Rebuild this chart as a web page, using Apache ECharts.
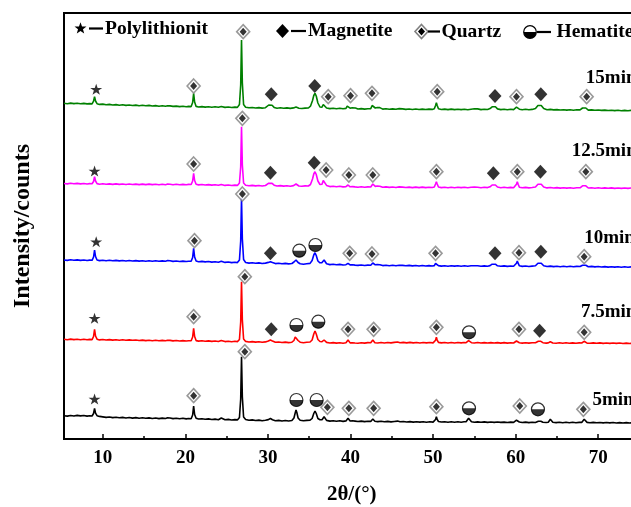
<!DOCTYPE html>
<html><head><meta charset="utf-8">
<script src="https://cdn.jsdelivr.net/npm/echarts@6/dist/echarts.min.js"></script>
<style>html,body{margin:0;padding:0;background:#fff}#c{width:631px;height:507px}</style>
</head><body><div id="c"></div>
<script>
// ---- data ----
const traceNames = ['5min','7.5min','10min','12.5min','15min'];
const traceColors = ['#000000','#ff0000','#0000ff','#ff00ff','#008000'];
const traceOffsets = [16, 95, 172, 250, 328];
const traceLabelPos = [[69.3,39],[67.9,127.3],[68.3,200.7],[66.8,288.3],[68.5,360.7]];
const xMajorTicks = [10,20,30,40,50,60,70];
const xMinorTicks = [15,25,35,45,55,65,75];

const int5 = [[5.3,7.3],[5.7,6.9],[6.1,7.5],[6.5,7.0],[6.9,7.6],[7.3,7.1],[7.7,7.5],[8.1,6.9],[8.4,7.3],[8.7,7.0],[8.88,9.5],[9.0,14.7],[9.12,9.8],[9.3,7.3],[9.6,6.6],[10.0,6.1],[10.4,5.6],[10.8,6.0],[11.2,5.4],[11.6,5.8],[12.0,5.2],[12.4,5.6],[12.8,5.0],[13.2,5.5],[13.6,4.9],[14.0,5.4],[14.4,4.8],[14.8,5.2],[15.2,4.7],[15.6,5.1],[16.0,4.5],[16.4,5.0],[16.8,4.4],[17.2,4.9],[17.6,4.5],[17.85,5.2],[18.0,6.2],[18.15,5.0],[18.5,4.4],[18.9,4.8],[19.3,4.2],[19.7,4.7],[20.1,4.1],[20.4,4.5],[20.7,4.3],[20.88,8.0],[21.0,17.0],[21.12,8.5],[21.3,4.8],[21.6,4.0],[22.0,4.3],[22.4,3.7],[22.8,4.1],[23.2,3.5],[23.6,3.9],[24.0,3.3],[24.2,3.7],[24.35,5.0],[24.5,3.8],[24.8,3.2],[25.2,3.6],[25.6,3.0],[26.0,3.4],[26.3,3.1],[26.55,5.5],[26.7,24.0],[26.8,66.3],[26.9,26.0],[27.05,6.0],[27.3,3.6],[27.7,2.7],[28.1,3.1],[28.5,2.5],[28.9,2.9],[29.3,2.3],[29.7,2.7],[30.05,3.4],[30.3,4.5],[30.55,3.3],[30.9,2.3],[31.3,2.6],[31.7,2.0],[32.1,2.5],[32.5,2.0],[32.9,2.5],[33.15,5.0],[33.3,10.0],[33.4,13.0],[33.5,10.5],[33.65,5.0],[33.9,2.8],[34.3,2.2],[34.7,2.6],[35.1,2.8],[35.35,4.5],[35.55,9.5],[35.7,12.0],[35.85,9.5],[36.05,4.5],[36.3,3.3],[36.55,3.2],[36.7,5.0],[36.8,6.3],[36.9,5.0],[37.1,2.6],[37.5,1.9],[37.9,2.3],[38.3,1.7],[38.7,2.2],[39.1,1.6],[39.45,2.1],[39.6,3.6],[39.7,4.7],[39.8,3.6],[39.95,2.0],[40.25,2.2],[40.4,3.2],[40.55,1.9],[40.9,1.5],[41.3,1.9],[41.7,1.4],[42.1,1.8],[42.45,1.6],[42.62,3.0],[42.7,4.0],[42.8,3.0],[42.95,1.8],[43.3,1.4],[43.7,1.8],[44.1,1.2],[44.5,1.6],[44.9,1.1],[45.3,1.5],[45.7,1.9],[46.0,1.2],[46.4,1.5],[46.8,1.0],[47.2,1.4],[47.6,0.9],[48.0,1.3],[48.4,0.9],[48.8,1.3],[49.2,0.8],[49.6,1.2],[50.0,0.9],[50.15,1.4],[50.3,3.5],[50.4,6.3],[50.5,3.6],[50.65,1.5],[51.0,1.0],[51.4,1.3],[51.8,0.8],[52.2,1.2],[52.6,0.8],[53.0,1.2],[53.4,0.8],[53.75,1.2],[54.0,1.2],[54.18,3.0],[54.3,4.7],[54.42,3.0],[54.65,1.2],[55.0,0.8],[55.4,1.1],[55.8,0.7],[56.2,1.1],[56.6,0.6],[57.0,1.0],[57.4,0.6],[57.8,1.0],[58.2,0.6],[58.6,0.9],[59.0,0.5],[59.4,0.9],[59.75,0.6],[59.95,0.9],[60.1,2.8],[60.2,4.7],[60.3,2.8],[60.45,1.0],[60.8,0.5],[61.2,0.9],[61.6,0.4],[62.0,0.8],[62.4,0.5],[62.75,1.8],[62.9,2.3],[63.05,1.8],[63.3,0.8],[63.7,0.5],[63.95,0.8],[64.1,2.6],[64.2,3.7],[64.3,2.6],[64.5,0.8],[64.9,0.4],[65.3,0.8],[65.7,0.3],[66.1,0.7],[66.5,0.3],[66.9,0.7],[67.3,0.3],[67.7,0.6],[68.0,0.6],[68.18,2.5],[68.3,3.7],[68.42,2.5],[68.65,0.6],[69.0,0.2],[69.4,0.6],[69.8,0.2],[70.2,0.5],[70.6,0.1],[71.0,0.5],[71.4,0.1],[71.8,0.5],[72.2,0.0],[72.6,0.4],[73.0,0.0],[73.4,0.4],[73.8,0.0],[74.2,0.4],[74.6,0.0],[75.0,0.3]];

const int7_5 = [[5.3,4.7],[5.7,4.3],[6.1,4.9],[6.5,4.4],[6.9,4.8],[7.3,4.3],[7.7,4.7],[8.1,4.2],[8.4,4.6],[8.7,4.4],[8.88,7.5],[9.0,14.7],[9.12,8.0],[9.3,4.8],[9.6,4.1],[10.0,4.5],[10.4,4.0],[10.8,4.4],[11.2,3.9],[11.6,4.3],[12.0,3.8],[12.4,4.2],[12.8,3.7],[13.2,4.1],[13.6,3.7],[14.0,4.0],[14.4,3.5],[14.8,3.9],[15.2,3.4],[15.6,3.8],[16.0,3.3],[16.4,3.7],[16.8,3.3],[17.2,3.6],[17.6,3.2],[17.85,3.8],[18.0,4.7],[18.15,3.6],[18.5,3.1],[18.9,3.5],[19.3,3.0],[19.7,3.4],[20.1,3.0],[20.4,3.3],[20.7,3.2],[20.88,7.0],[21.0,15.7],[21.12,7.5],[21.3,3.4],[21.6,2.9],[22.0,3.2],[22.4,2.7],[22.8,3.1],[23.2,2.6],[23.6,3.0],[24.0,2.5],[24.2,2.9],[24.35,3.6],[24.5,2.8],[24.8,2.4],[25.2,2.8],[25.6,2.3],[26.0,2.7],[26.3,2.4],[26.55,4.5],[26.7,22.0],[26.8,62.3],[26.9,24.0],[27.05,5.0],[27.3,2.6],[27.7,2.0],[28.1,2.4],[28.5,1.9],[28.9,2.3],[29.3,1.7],[29.7,2.1],[30.05,3.0],[30.3,4.0],[30.55,2.9],[30.9,1.7],[31.3,2.0],[31.7,1.5],[32.1,1.9],[32.5,1.4],[32.9,1.8],[33.15,3.5],[33.3,7.0],[33.4,9.0],[33.5,7.2],[33.65,3.5],[33.9,1.8],[34.3,1.3],[34.7,1.7],[35.1,2.0],[35.35,4.0],[35.55,10.0],[35.7,13.0],[35.85,10.0],[36.05,4.5],[36.3,2.5],[36.55,2.3],[36.7,3.4],[36.8,4.0],[36.9,3.3],[37.1,1.6],[37.5,1.0],[37.9,1.4],[38.3,0.9],[38.7,1.3],[39.1,0.8],[39.45,1.2],[39.6,2.8],[39.7,4.0],[39.8,2.8],[39.95,1.1],[40.25,1.2],[40.4,2.0],[40.55,1.0],[40.9,0.8],[41.3,1.3],[41.7,0.9],[42.1,1.4],[42.45,1.2],[42.62,2.8],[42.7,4.0],[42.8,2.8],[42.95,1.3],[43.3,1.0],[43.7,1.5],[44.1,1.0],[44.5,1.5],[44.9,1.1],[45.3,1.6],[45.7,2.0],[46.0,1.2],[46.4,1.6],[46.8,1.1],[47.2,1.6],[47.6,1.1],[48.0,1.5],[48.4,1.0],[48.8,1.5],[49.2,1.1],[49.6,1.5],[50.0,1.1],[50.15,1.5],[50.3,3.8],[50.4,6.7],[50.5,3.9],[50.65,1.6],[51.0,1.1],[51.4,1.5],[51.8,1.0],[52.2,1.5],[52.6,1.0],[53.0,1.5],[53.4,1.1],[53.75,1.5],[54.0,1.3],[54.18,2.5],[54.3,3.3],[54.42,2.5],[54.65,1.3],[55.0,1.0],[55.4,1.5],[55.8,1.0],[56.2,1.4],[56.6,1.0],[57.0,1.4],[57.4,1.0],[57.8,1.4],[58.2,0.9],[58.6,1.4],[59.0,0.9],[59.4,1.3],[59.75,1.0],[59.95,1.3],[60.1,3.0],[60.2,4.7],[60.3,3.0],[60.45,1.3],[60.8,0.9],[61.2,1.3],[61.6,0.9],[62.0,1.3],[62.4,1.2],[62.75,2.7],[62.9,3.3],[63.05,2.7],[63.3,1.3],[63.7,0.9],[63.95,1.1],[64.1,1.8],[64.2,2.3],[64.3,1.8],[64.5,1.0],[64.9,0.8],[65.3,1.2],[65.7,0.8],[66.1,1.2],[66.5,0.8],[66.9,1.1],[67.3,0.7],[67.7,1.1],[68.0,1.0],[68.18,2.0],[68.3,2.7],[68.42,2.0],[68.65,0.9],[69.0,0.7],[69.4,1.1],[69.8,0.7],[70.2,1.1],[70.6,0.6],[71.0,1.0],[71.4,0.6],[71.8,1.0],[72.2,0.6],[72.6,1.0],[73.0,0.5],[73.4,0.9],[73.8,0.5],[74.2,0.9],[74.6,0.5],[75.0,0.8]];

const int10 = [[5.3,7.0],[5.7,6.6],[6.1,7.2],[6.5,6.7],[6.9,7.1],[7.3,6.6],[7.7,7.0],[8.1,6.5],[8.4,6.9],[8.7,6.7],[8.88,10.0],[9.0,17.0],[9.12,10.5],[9.3,7.0],[9.6,6.4],[10.0,6.8],[10.4,6.3],[10.8,6.7],[11.2,6.2],[11.6,6.6],[12.0,6.1],[12.4,6.5],[12.8,6.0],[13.2,6.5],[13.6,6.0],[14.0,6.4],[14.4,5.9],[14.8,6.3],[15.2,5.8],[15.6,6.3],[16.0,5.8],[16.4,6.2],[16.8,5.7],[17.2,6.1],[17.6,5.7],[17.85,6.4],[18.0,7.8],[18.15,6.2],[18.5,5.6],[18.9,6.0],[19.3,5.5],[19.7,5.9],[20.1,5.5],[20.4,5.8],[20.7,5.7],[20.88,9.5],[21.0,18.7],[21.12,10.0],[21.3,6.0],[21.6,5.3],[22.0,5.6],[22.4,5.1],[22.8,5.5],[23.2,4.9],[23.6,5.3],[24.0,4.8],[24.2,5.2],[24.35,5.8],[24.5,5.0],[24.8,4.6],[25.2,5.0],[25.6,4.4],[26.0,4.8],[26.3,4.4],[26.55,7.0],[26.7,26.0],[26.8,68.7],[26.9,28.0],[27.05,7.5],[27.3,4.5],[27.7,3.9],[28.1,4.3],[28.5,3.7],[28.9,4.1],[29.3,3.5],[29.7,3.9],[30.05,4.6],[30.3,5.3],[30.55,4.4],[30.9,3.4],[31.3,3.8],[31.7,3.2],[32.1,3.6],[32.5,3.1],[32.9,3.5],[33.15,5.0],[33.3,6.5],[33.4,7.0],[33.5,6.4],[33.65,4.5],[33.9,3.2],[34.3,2.8],[34.7,3.2],[35.1,3.6],[35.35,6.5],[35.55,12.0],[35.7,14.3],[35.85,11.5],[36.05,6.0],[36.3,4.2],[36.55,4.4],[36.7,6.2],[36.8,7.0],[36.9,6.0],[37.1,3.2],[37.5,2.4],[37.9,2.8],[38.3,2.2],[38.7,2.6],[39.1,2.0],[39.45,2.3],[39.6,3.1],[39.7,3.7],[39.8,3.1],[39.95,2.1],[40.25,2.2],[40.4,2.6],[40.55,1.9],[40.9,1.6],[41.3,2.0],[41.7,1.5],[42.1,1.9],[42.45,1.8],[42.62,3.2],[42.7,4.0],[42.8,3.3],[43.0,2.2],[43.25,2.4],[43.4,3.0],[43.55,2.3],[43.9,1.4],[44.3,1.8],[44.7,1.3],[45.1,1.7],[45.5,1.2],[45.9,1.8],[46.1,2.3],[46.3,1.6],[46.7,1.2],[47.1,1.6],[47.5,1.1],[47.9,1.5],[48.3,1.0],[48.7,1.5],[49.1,1.0],[49.5,1.4],[49.9,1.0],[50.15,1.4],[50.3,3.5],[50.4,5.3],[50.5,3.5],[50.65,1.4],[51.0,0.9],[51.4,1.3],[51.8,0.8],[52.2,1.3],[52.6,0.9],[53.0,1.3],[53.4,0.8],[53.8,1.2],[54.2,0.8],[54.6,1.2],[55.0,1.3],[55.2,2.0],[55.4,1.3],[55.8,0.7],[56.2,1.1],[56.6,0.8],[56.9,1.4],[57.15,2.8],[57.35,3.7],[57.55,2.8],[57.8,1.2],[58.2,0.7],[58.6,1.1],[59.0,0.6],[59.4,1.0],[59.75,0.7],[59.95,1.2],[60.1,3.8],[60.2,6.0],[60.3,3.8],[60.45,1.2],[60.8,0.6],[61.2,1.0],[61.6,0.5],[62.0,0.9],[62.4,1.2],[62.7,3.8],[62.9,5.3],[63.1,3.8],[63.4,1.2],[63.8,0.5],[64.2,0.9],[64.6,0.4],[65.0,0.8],[65.4,0.3],[65.8,0.7],[66.2,0.3],[66.6,0.7],[67.0,0.2],[67.4,0.6],[67.8,0.5],[68.1,1.8],[68.3,3.0],[68.5,1.8],[68.8,0.3],[69.2,0.6],[69.6,0.1],[70.0,0.5],[70.4,0.0],[70.8,0.4],[71.2,-0.1],[71.6,0.3],[72.0,-0.1],[72.4,0.3],[72.8,-0.2],[73.2,0.2],[73.6,-0.2],[74.0,0.2],[74.4,-0.2],[74.8,0.1],[75.0,0.0]];

const int12_5 = [[5.3,5.5],[5.7,5.1],[6.1,5.7],[6.5,5.2],[6.9,5.6],[7.3,5.1],[7.7,5.5],[8.1,5.0],[8.4,5.4],[8.7,5.2],[8.88,7.5],[9.0,12.3],[9.12,8.0],[9.3,5.4],[9.6,4.8],[10.0,5.2],[10.4,4.7],[10.8,5.1],[11.2,4.6],[11.6,5.1],[12.0,4.6],[12.4,5.0],[12.8,4.5],[13.2,5.0],[13.6,4.5],[14.0,4.9],[14.4,4.4],[14.8,4.9],[15.2,4.4],[15.6,4.9],[16.0,4.4],[16.4,4.8],[16.8,4.3],[17.2,4.8],[17.6,4.3],[17.85,4.9],[18.0,5.6],[18.15,4.7],[18.5,4.2],[18.9,4.7],[19.3,4.2],[19.7,4.6],[20.1,4.2],[20.4,4.6],[20.7,4.5],[20.88,8.0],[21.0,15.7],[21.12,8.5],[21.3,4.7],[21.6,4.1],[22.0,4.5],[22.4,4.0],[22.8,4.4],[23.2,3.9],[23.6,4.3],[24.0,3.7],[24.2,4.1],[24.35,4.6],[24.5,4.0],[24.8,3.6],[25.2,4.0],[25.6,3.5],[26.0,3.9],[26.3,3.6],[26.55,6.0],[26.7,22.0],[26.8,62.3],[26.9,24.0],[27.05,6.0],[27.3,3.8],[27.7,3.2],[28.1,3.6],[28.5,3.1],[28.9,3.5],[29.3,3.0],[29.7,3.5],[29.9,4.0],[30.1,5.8],[30.3,6.7],[30.5,5.6],[30.75,3.8],[31.1,3.0],[31.5,3.4],[31.9,2.9],[32.3,3.3],[32.7,2.8],[33.1,3.4],[33.3,4.5],[33.4,5.0],[33.5,4.4],[33.75,3.0],[34.1,2.7],[34.5,3.1],[34.9,3.0],[35.15,4.5],[35.4,10.0],[35.55,15.0],[35.7,17.3],[35.85,14.5],[36.05,8.0],[36.3,4.5],[36.55,4.8],[36.7,8.5],[36.8,9.7],[36.9,8.0],[37.1,3.6],[37.5,2.4],[37.9,2.8],[38.3,2.2],[38.7,2.7],[39.1,2.1],[39.45,2.4],[39.6,3.4],[39.7,4.0],[39.8,3.4],[39.95,2.2],[40.25,2.4],[40.4,3.0],[40.55,2.1],[40.9,1.8],[41.3,2.2],[41.7,1.7],[42.1,2.1],[42.45,2.0],[42.62,4.0],[42.7,5.0],[42.8,4.0],[43.0,2.6],[43.25,3.0],[43.4,4.0],[43.55,2.8],[43.9,1.7],[44.3,2.1],[44.7,1.6],[45.1,2.0],[45.5,1.5],[45.9,2.1],[46.1,2.6],[46.3,1.9],[46.7,1.5],[47.1,1.9],[47.5,1.4],[47.9,1.9],[48.3,1.4],[48.7,1.9],[49.1,1.4],[49.5,1.8],[49.9,1.5],[50.15,2.0],[50.3,5.0],[50.4,7.3],[50.5,5.0],[50.65,2.0],[51.0,1.4],[51.4,1.8],[51.8,1.3],[52.2,1.8],[52.6,1.3],[53.0,1.8],[53.4,1.4],[53.8,1.8],[54.2,1.3],[54.6,1.7],[55.0,1.9],[55.2,2.4],[55.4,1.8],[55.8,1.3],[56.2,1.7],[56.6,1.4],[56.9,2.2],[57.15,4.0],[57.35,5.0],[57.55,4.0],[57.8,2.0],[58.2,1.3],[58.6,1.7],[59.0,1.2],[59.4,1.6],[59.75,1.3],[59.95,1.8],[60.1,4.8],[60.2,7.3],[60.3,4.8],[60.45,1.8],[60.8,1.2],[61.2,1.6],[61.6,1.1],[62.0,1.5],[62.4,2.0],[62.7,4.8],[62.9,6.0],[63.1,4.8],[63.4,2.0],[63.8,1.1],[64.2,1.5],[64.6,1.0],[65.0,1.4],[65.4,0.9],[65.8,1.3],[66.2,0.9],[66.6,1.3],[67.0,0.8],[67.4,1.2],[67.8,1.2],[68.1,3.2],[68.3,5.0],[68.5,3.2],[68.8,1.0],[69.2,1.2],[69.6,0.8],[70.0,1.2],[70.4,0.7],[70.8,1.1],[71.2,0.7],[71.6,1.1],[72.0,0.6],[72.4,1.0],[72.8,0.6],[73.2,1.0],[73.6,0.6],[74.0,1.0],[74.4,0.5],[74.8,0.9],[75.0,0.7]];

const int15 = [[5.3,7.7],[5.7,7.3],[6.1,7.9],[6.5,7.4],[6.9,7.8],[7.3,7.2],[7.7,7.6],[8.1,7.1],[8.4,7.4],[8.7,7.1],[8.88,9.8],[9.0,14.3],[9.12,10.0],[9.3,7.3],[9.6,6.6],[10.0,6.9],[10.4,6.3],[10.8,6.6],[11.2,6.0],[11.6,6.4],[12.0,5.8],[12.4,6.2],[12.8,5.6],[13.2,6.0],[13.6,5.5],[14.0,5.9],[14.4,5.3],[14.8,5.7],[15.2,5.2],[15.6,5.6],[16.0,5.0],[16.4,5.4],[16.8,4.8],[17.2,5.2],[17.6,4.7],[17.85,5.3],[18.0,6.4],[18.15,5.1],[18.5,4.6],[18.9,4.9],[19.3,4.4],[19.7,4.8],[20.1,4.3],[20.4,4.6],[20.7,4.4],[20.88,8.5],[21.0,17.7],[21.12,9.0],[21.3,4.6],[21.6,4.0],[22.0,4.4],[22.4,3.9],[22.8,4.3],[23.2,3.8],[23.6,4.2],[24.0,3.7],[24.2,4.1],[24.35,4.5],[24.5,4.0],[24.8,3.6],[25.2,4.0],[25.6,3.5],[26.0,3.9],[26.3,3.6],[26.55,6.5],[26.7,26.0],[26.8,71.0],[26.9,28.0],[27.05,6.5],[27.3,3.8],[27.7,3.2],[28.1,3.5],[28.5,3.0],[28.9,3.4],[29.3,2.9],[29.7,3.3],[29.9,3.9],[30.1,6.0],[30.3,7.0],[30.5,5.8],[30.75,3.6],[31.1,2.8],[31.5,3.2],[31.9,2.7],[32.3,3.1],[32.7,2.6],[33.1,3.1],[33.3,3.6],[33.4,3.9],[33.5,3.5],[33.75,2.7],[34.1,2.5],[34.5,2.9],[34.9,3.0],[35.15,4.8],[35.4,10.5],[35.55,15.5],[35.7,17.7],[35.85,15.0],[36.05,8.0],[36.3,4.0],[36.55,3.8],[36.7,6.5],[36.8,7.7],[36.9,6.2],[37.1,3.0],[37.5,2.4],[37.9,2.8],[38.3,2.3],[38.7,2.7],[39.1,2.2],[39.45,2.6],[39.6,4.8],[39.7,6.0],[39.8,4.6],[39.95,2.8],[40.2,3.2],[40.4,5.0],[40.6,3.0],[40.9,2.0],[41.3,2.4],[41.7,1.9],[42.1,2.3],[42.45,2.4],[42.62,5.5],[42.7,7.0],[42.8,5.5],[43.0,3.0],[43.25,3.5],[43.4,5.0],[43.55,3.4],[43.9,1.9],[44.3,2.2],[44.7,1.7],[45.1,2.1],[45.5,1.7],[45.9,2.4],[46.1,3.0],[46.3,2.1],[46.7,1.6],[47.1,2.0],[47.5,1.5],[47.9,2.0],[48.3,1.5],[48.7,1.9],[49.1,1.5],[49.5,1.9],[49.9,1.6],[50.15,2.2],[50.3,5.5],[50.4,8.3],[50.5,5.5],[50.65,2.2],[51.0,1.5],[51.4,1.9],[51.8,1.4],[52.2,1.9],[52.6,1.4],[53.0,1.8],[53.4,1.4],[53.8,1.8],[54.2,1.3],[54.6,1.8],[55.0,2.2],[55.2,3.0],[55.4,2.1],[55.8,1.4],[56.2,1.8],[56.6,1.5],[56.9,2.4],[57.15,4.2],[57.35,5.3],[57.55,4.2],[57.8,2.1],[58.2,1.4],[58.6,1.8],[59.0,1.3],[59.4,1.7],[59.75,1.4],[59.95,1.9],[60.1,3.8],[60.2,5.3],[60.3,3.8],[60.45,1.8],[60.8,1.3],[61.2,1.7],[61.6,1.2],[62.0,1.6],[62.4,2.5],[62.7,5.5],[62.9,6.7],[63.1,5.5],[63.4,2.4],[63.8,1.2],[64.2,1.6],[64.6,1.1],[65.0,1.4],[65.4,1.0],[65.8,1.3],[66.2,0.9],[66.6,1.2],[67.0,0.8],[67.4,1.2],[67.8,1.1],[68.1,3.0],[68.3,4.3],[68.5,3.0],[68.8,0.9],[69.2,1.1],[69.6,0.7],[70.0,1.0],[70.4,0.6],[70.8,0.9],[71.2,0.5],[71.6,0.8],[72.0,0.4],[72.4,0.7],[72.8,0.3],[73.2,0.6],[73.6,0.3],[74.0,0.6],[74.4,0.2],[74.8,0.5],[75.0,0.3]];

// phase markers, [2theta, position in stacked plot]
const starPts = [[9.0,40],[9.0,120.7],[9.2,197.3],[9.0,268],[9.2,349.7]];
const magPts = [[30.4,109.7],[62.9,108.3],[30.3,185.7],[57.5,185.7],[63.05,187.3],[30.3,266.3],[35.6,276.3],[57.3,265.7],[63.0,267.3],[30.4,344.7],[35.67,353],[57.5,343],[63.05,344.7]];
const qtzPts = [[21.0,43.3],[27.2,87.3],[37.2,31.7],[39.8,30.7],[42.8,30.7],[50.4,32.3],[60.5,33],[68.2,29.7],
 [21.0,122.3],[27.2,162.3],[39.7,109.7],[42.8,109.7],[50.4,111.7],[60.4,109.7],[68.3,106.7],
 [21.1,198.3],[26.9,245],[39.9,185.7],[42.6,185],[50.3,185.7],[60.4,186.3],[68.3,182.3],
 [21.0,275],[26.9,320.7],[37.05,269],[39.8,264],[42.7,264],[50.4,267.3],[60.2,267.3],[68.5,267.3],
 [21.0,353],[27.0,407.3],[37.3,342.3],[40.0,343.3],[42.6,345.7],[50.5,347.3],[60.1,342.3],[68.6,342.3]];
const hemPts = [[33.45,39],[35.9,39],[54.35,30.7],[62.7,29.7],[33.45,114],[36.1,117.3],[54.35,106.7],[33.8,188.3],[35.75,194]];
const legendNames = ['Polylithionit','Magnetite','Quartz','Hematite'];

// ---- chart ----
const traces = [int5, int7_5, int10, int12_5, int15];
const FONT = 'Liberation Serif';
const STAR = 'path://M50,0 L61.8,35.3 L98.9,35.3 L68.9,57.1 L80.3,92.4 L50,70.6 L19.7,92.4 L31.1,57.1 L1.1,35.3 L38.2,35.3 Z';
const HALF = 'path://M0,0 L20,0 C20,13.33 0,13.33 0,0 Z';

const series = traces.map((tr, i) => ({
  type: 'line', name: traceNames[i], xAxisIndex: 0, yAxisIndex: 0,
  data: tr.map(p => [p[0], p[1] + traceOffsets[i]]),
  showSymbol: false, symbol: 'none', z: 2,
  lineStyle: { color: traceColors[i], width: 1.6 },
  markPoint: {
    symbol: 'rect', symbolSize: 0, silent: true, animation: false,
    data: [{ coord: traceLabelPos[i], name: traceNames[i] }],
    label: { show: true, position: 'right', distance: 0, formatter: traceNames[i],
      color: '#000', fontFamily: FONT, fontWeight: 'bold', fontSize: 19 }
  }
}));
const sc = (name, data, extra) => Object.assign({ type: 'scatter', name, data, z: 5, silent: true }, extra);
series.push(sc('Polylithionit', starPts, { symbol: STAR, symbolSize: [12, 11], itemStyle: { color: '#000' } }));
series.push(sc('Magnetite', magPts, { symbol: 'diamond', symbolSize: [13, 14], itemStyle: { color: '#000' } }));
series.push(sc('Quartz', qtzPts, { symbol: 'diamond', symbolSize: [13, 14], itemStyle: { color: '#fff', borderColor: '#808080', borderWidth: 1.6 } }));
series.push(sc('Quartz-core', qtzPts, { symbol: 'diamond', symbolSize: [7, 8], z: 6, itemStyle: { color: '#000' } }));
series.push(sc('Hematite', hemPts, { symbol: 'circle', symbolSize: 13, itemStyle: { color: '#fff', borderColor: '#000', borderWidth: 1.2 } }));
series.push(sc('Hematite-half', hemPts, { symbol: HALF, symbolSize: [13, 6.5], symbolOffset: [0, 3.25], z: 6, itemStyle: { color: '#000' } }));

function starPoly(cx, cy, R, r) { const p = []; for (let k = 0; k < 10; k++) { const a = -Math.PI / 2 + k * Math.PI / 5; const rr = k % 2 ? r : R; p.push([cx + rr * Math.cos(a), cy + rr * Math.sin(a)]); } return p; }
function dia(cx, cy, w, h) { return [[cx, cy - h], [cx + w, cy], [cx, cy + h], [cx - w, cy]]; }
const txt = (x, y, s) => ({ type: 'text', left: x, top: y - 11, style: { text: s, fill: '#000', font: 'bold 19.5px "Liberation Serif"' } });
const dash = (x1, x2, y) => ({ type: 'line', shape: { x1, y1: y, x2, y2: y }, style: { stroke: '#000', lineWidth: 2.2 } });

const graphic = [
  { type: 'polygon', shape: { points: starPoly(80.5, 28.5, 6.3, 2.6) }, style: { fill: '#000' } },
  dash(89, 103, 28.5), txt(105, 29.5, legendNames[0]),
  { type: 'polygon', shape: { points: dia(282.5, 31, 6.5, 7) }, style: { fill: '#000' } },
  dash(291, 306, 31), txt(308, 32, legendNames[1]),
  { type: 'polygon', shape: { points: dia(421.5, 31.5, 6.5, 7) }, style: { fill: '#fff', stroke: '#808080', lineWidth: 1.6 } },
  { type: 'polygon', shape: { points: dia(421.5, 31.5, 3.5, 4) }, style: { fill: '#000' } },
  dash(428, 440, 31.5), txt(441.5, 32.5, legendNames[2]),
  { type: 'circle', shape: { cx: 530, cy: 32, r: 6.3 }, style: { fill: '#fff', stroke: '#000', lineWidth: 1.2 } },
  { type: 'sector', shape: { cx: 530, cy: 32, r: 6.3, r0: 0, startAngle: 0, endAngle: Math.PI, clockwise: true }, style: { fill: '#000' } },
  dash(537, 551, 32), txt(556.5, 33, legendNames[3])
];

const labelStyle = { color: '#000', fontFamily: FONT, fontWeight: 'bold', fontSize: 19 };
const option = {
  animation: false,
  backgroundColor: '#fff',
  grid: { left: 64, top: 13, width: 575.5, height: 426, outerBoundsMode: 'none', containLabel: false,
    show: true, borderColor: '#000', borderWidth: 2, backgroundColor: 'transparent' },
  xAxis: [
    { type: 'value', min: 5.3, max: 75, position: 'bottom',
      axisLine: { show: true, onZero: false, lineStyle: { color: '#000', width: 2 } },
      axisTick: { show: true, inside: true, length: 5, customValues: xMajorTicks, lineStyle: { color: '#000', width: 1.5 } },
      axisLabel: Object.assign({ customValues: xMajorTicks, margin: 10 }, labelStyle),
      splitLine: { show: false },
      name: '2θ/(°)', nameLocation: 'middle', nameGap: 45,
      nameTextStyle: { color: '#000', fontFamily: FONT, fontWeight: 'bold', fontSize: 21 } },
    { type: 'value', min: 5.3, max: 75, position: 'bottom',
      axisLine: { show: false },
      axisTick: { show: true, inside: true, length: 3, customValues: xMinorTicks, lineStyle: { color: '#000', width: 1.5 } },
      axisLabel: { show: false }, splitLine: { show: false } }
  ],
  yAxis: { type: 'value', min: 0, max: 426,
    axisLine: { show: true, lineStyle: { color: '#000', width: 2 } },
    axisTick: { show: false }, axisLabel: { show: false }, splitLine: { show: false },
    name: 'Intensity/counts', nameLocation: 'middle', nameGap: 29,
    nameTextStyle: { color: '#000', fontFamily: FONT, fontWeight: 'bold', fontSize: 24 } },
  graphic: graphic,
  series: series
};
const chart = echarts.init(document.getElementById('c'), null, { renderer: 'canvas' });
chart.setOption(option);
</script></body></html>
